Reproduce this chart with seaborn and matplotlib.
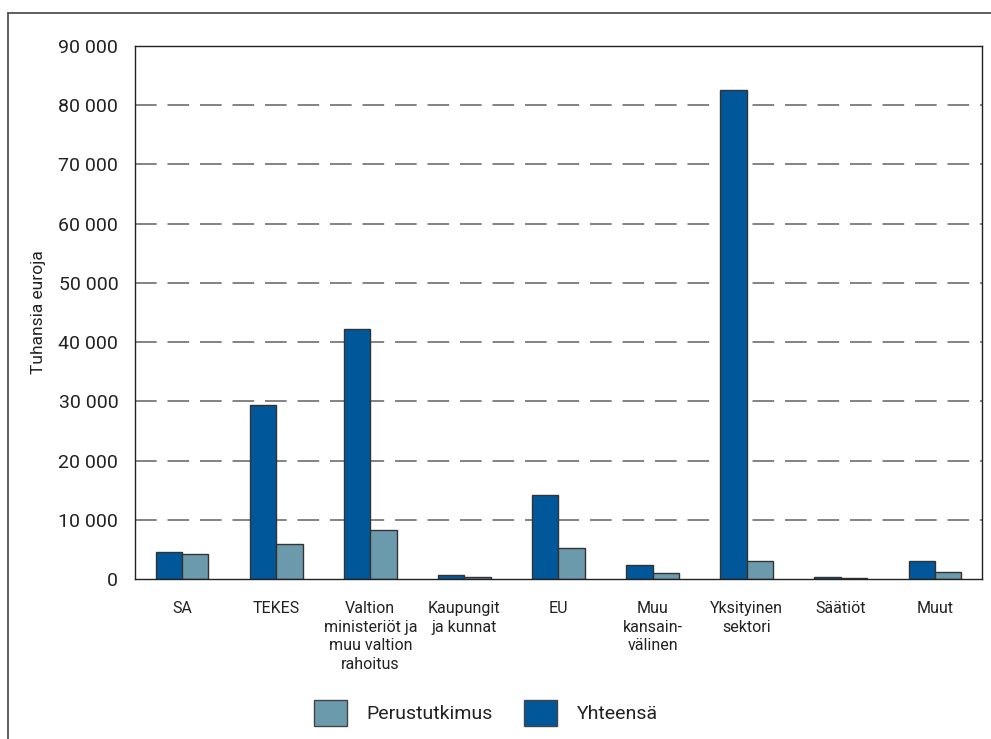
import matplotlib
matplotlib.use("Agg")
import matplotlib.pyplot as plt
from matplotlib.patches import Patch
from matplotlib.lines import Line2D
from matplotlib.ticker import FuncFormatter, MultipleLocator
import seaborn as sns
import pandas as pd

# Rahoituslähteet ja rahoitus (tuhatta euroa)
categories = [
    "SA",
    "TEKES",
    "Valtion\nministeriöt ja\nmuu valtion\nrahoitus",
    "Kaupungit\nja kunnat",
    "EU",
    "Muu\nkansain-\nvälinen",
    "Yksityinen\nsektori",
    "Säätiöt",
    "Muut",
]
yhteensa = [4500, 29300, 42200, 700, 14200, 2300, 82600, 300, 3000]
perustutkimus = [4200, 5900, 8300, 300, 5200, 1000, 3000, 200, 1200]

series_names = ["Yhteensä", "Perustutkimus"]
colors = {"Yhteensä": "#00589b", "Perustutkimus": "#6b9aad"}

df = pd.DataFrame({
    "Rahoittaja": categories * 2,
    "Sarja": [series_names[0]] * len(categories) + [series_names[1]] * len(categories),
    "Arvo": yhteensa + perustutkimus,
})

sns.set_theme(style="white")
plt.rcParams["font.family"] = ["Roboto", "DejaVu Sans"]
plt.rcParams["text.color"] = "#222222"

fig = plt.figure(figsize=(9.91, 7.39), dpi=100)
ax = fig.add_axes([135 / 991, 1 - 579 / 739, (982 - 135) / 991, (579 - 46) / 739])

sns.barplot(
    data=df, x="Rahoittaja", y="Arvo", hue="Sarja",
    hue_order=series_names, palette=colors, width=0.56,
    edgecolor="#333333", linewidth=1.0, saturation=1.0,
    legend=False, ax=ax,
)

ax.set_ylim(0, 90000)
ax.set_xlim(-0.5, len(categories) - 0.5)
ax.yaxis.set_major_locator(MultipleLocator(10000))
ax.yaxis.set_major_formatter(FuncFormatter(lambda v, p: f"{int(v):,}".replace(",", " ")))
for val in range(10000, 90000, 10000):
    ax.axhline(val, color="#7a7a7a", linewidth=1.3, linestyle=(0, (12, 6)), zorder=0)

ax.set_xlabel("")
ax.set_ylabel("Tuhansia euroja", fontsize=12.5, labelpad=9, color="#222222")
ax.tick_params(axis="y", labelsize=14, length=0, pad=12, labelcolor="#222222")
ax.tick_params(axis="x", labelsize=11.5, length=0, pad=16, labelcolor="#222222")
for lbl in ax.get_xticklabels():
    lbl.set_linespacing(1.3)
    lbl.set_verticalalignment("top")
for s in ax.spines.values():
    s.set_visible(True)
    s.set_color("#222222")
    s.set_linewidth(1.0)

handles = [
    Patch(facecolor=colors["Perustutkimus"], edgecolor="#444444", label="Perustutkimus"),
    Patch(facecolor=colors["Yhteensä"], edgecolor="#444444", label="Yhteensä"),
]
fig.legend(
    handles=handles, loc="center", bbox_to_anchor=(486 / 991, 1 - 713 / 739),
    ncol=2, frameon=False, fontsize=14, handlelength=1.7, handleheight=1.7,
    handletextpad=1.0, columnspacing=1.6,
)

# Kehys kuvion ympärillä
fig.add_artist(Line2D([8 / 991, 1.0], [1 - 13 / 739] * 2, color="#444444", linewidth=1.2))
fig.add_artist(Line2D([8 / 991] * 2, [0, 1 - 13 / 739], color="#444444", linewidth=1.2))

fig.savefig("out.png", dpi=100)
